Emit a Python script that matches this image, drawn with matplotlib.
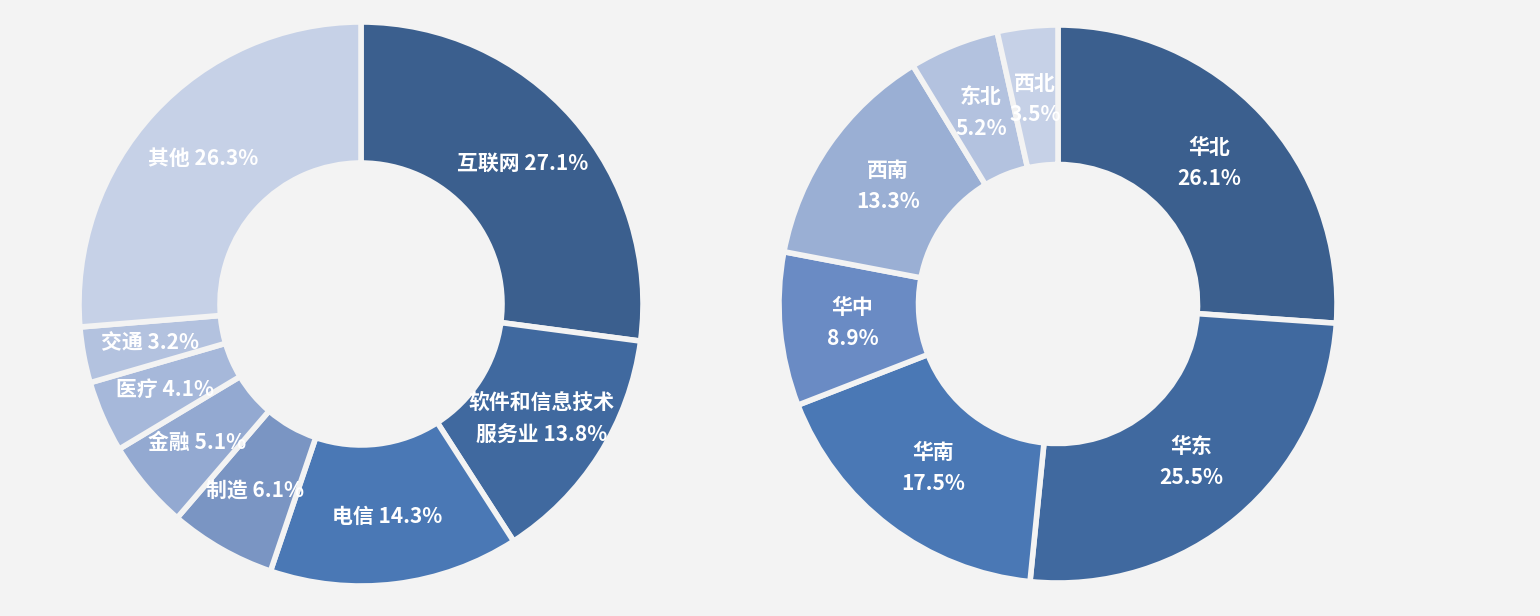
import matplotlib
matplotlib.use("Agg")
import matplotlib.pyplot as plt
import numpy as np

plt.rcParams['font.family'] = ['Noto Sans CJK SC', 'DejaVu Sans']

ind_names = ["互联网", "软件和信息技术\n服务业", "电信", "制造", "金融", "医疗", "交通", "其他"]
ind_vals = [27.1, 13.8, 14.3, 6.1, 5.1, 4.1, 3.2, 26.3]
ind_colors = ["#3b5f8e", "#40699f", "#4a78b5", "#7a95c3", "#93a9d1", "#a6b8da", "#b3c2df", "#c6d1e7"]

reg_names = ["华北", "华东", "华南", "华中", "西南", "东北", "西北"]
reg_vals = [26.1, 25.5, 17.5, 8.9, 13.3, 5.2, 3.5]
reg_colors = ["#3b5f8e", "#40699f", "#4a78b5", "#6a8bc4", "#9aafd4", "#b3c2df", "#c6d1e7"]

fig = plt.figure(figsize=(15.4, 6.16), dpi=100)
fig.patch.set_facecolor("#f3f3f3")

def donut(cx, cy, r, names, vals, colors, sep, rlab, fs):
    w = 2 * r / 1540; h = 2 * r / 616
    ax = fig.add_axes([cx / 1540 - w / 2, 1 - cy / 616 - h / 2, w, h])
    ax.set_facecolor("none")
    wedges, _ = ax.pie(vals, colors=colors, startangle=90, counterclock=False, radius=1,
                       wedgeprops=dict(width=0.5, edgecolor="#f3f3f3", linewidth=4))
    for wd, n, v in zip(wedges, names, vals):
        a = np.deg2rad((wd.theta1 + wd.theta2) / 2)
        txt = f"{n}{sep}{v}%"
        ax.text(rlab * np.cos(a), rlab * np.sin(a), txt, ha="center", va="center",
                color="white", fontsize=fs, fontweight="bold", linespacing=1.6)
    ax.set_xlim(-1, 1); ax.set_ylim(-1, 1); ax.set_aspect("equal"); ax.axis("off")

donut(361, 304, 282, ind_names, ind_vals, ind_colors, " ", 0.76, 15)
donut(1058, 304, 279, reg_names, reg_vals, reg_colors, "\n", 0.74, 15)

fig.savefig("out.png", dpi=100, facecolor=fig.get_facecolor())
